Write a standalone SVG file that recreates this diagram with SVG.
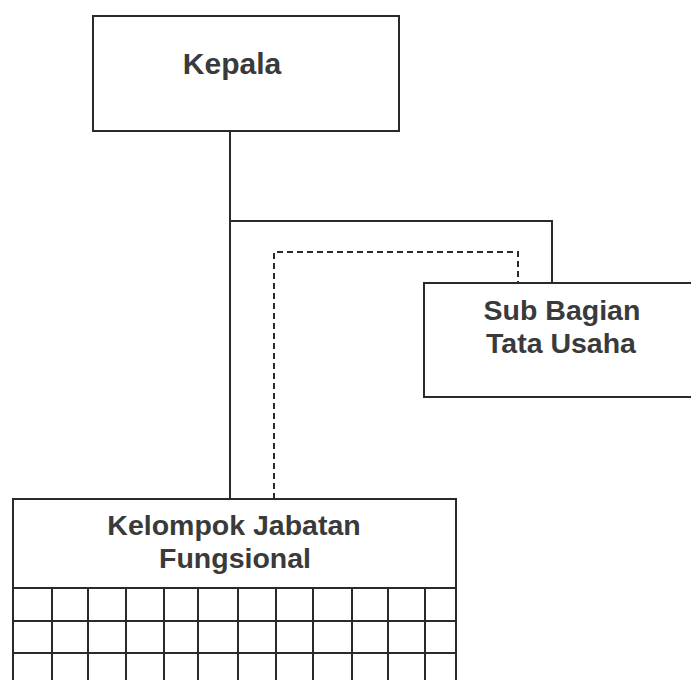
<svg xmlns="http://www.w3.org/2000/svg" width="691" height="680" viewBox="0 0 691 680">
<style>
.box{fill:#fff;stroke:#2a2a2a;stroke-width:2}
.ln{fill:none;stroke:#2a2a2a;stroke-width:2}
.dash{fill:none;stroke:#2a2a2a;stroke-width:2;stroke-dasharray:6 4}
.t{font-family:"Liberation Sans",Arial,sans-serif;font-weight:bold;fill:#3a3a3a;text-anchor:middle}
</style>
<rect width="691" height="680" fill="#fff"/>
<g id="connectors">
<path class="ln" d="M230 131 V499"/>
<path class="ln" d="M230 221 H552 V286"/>
<path class="dash" d="M274 499 V252 H518 V283"/>
</g>
<g id="kepala">
<rect class="box" x="93" y="16" width="306" height="115"/>
<text class="t" x="232" y="74" font-size="30">Kepala</text>
</g>
<g id="subbagian">
<rect class="box" x="424" y="283" width="280" height="114"/>
<text class="t" x="562" y="320" font-size="28.5">Sub Bagian</text>
<text class="t" x="561" y="353" font-size="28.5">Tata Usaha</text>
</g>
<g id="kelompok">
<path class="box" d="M13 690 V499 H456 V690"/>
<text class="t" x="234" y="535" font-size="28.5">Kelompok Jabatan</text>
<text class="t" x="235" y="568" font-size="28.5">Fungsional</text>
<path class="ln" d="M13 588 H456 M13 621 H456 M13 653 H456 M52 588 V690 M88 588 V690 M126 588 V690 M164 588 V690 M198 588 V690 M238 588 V690 M276 588 V690 M313 588 V690 M352 588 V690 M388 588 V690 M425 588 V690"/>
</g>
</svg>
